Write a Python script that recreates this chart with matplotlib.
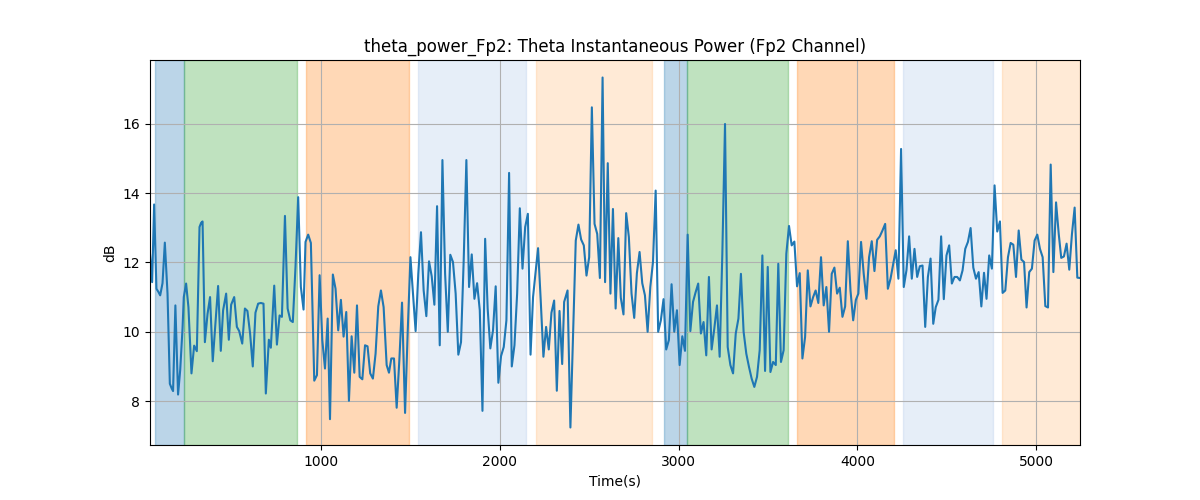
import matplotlib
matplotlib.use("Agg")
import matplotlib.pyplot as plt

times = [
    42, 54, 65, 78, 89, 99, 112, 125, 140, 153, 164, 171, 184, 199, 211, 224, 231, 244, 257, 274,
    289, 304, 319, 328, 336, 349, 364, 378, 393, 408, 423, 438, 451, 468, 483, 496, 513, 528, 541,
    558, 573, 587, 602, 617, 632, 647, 662, 677, 690,
    707, 718, 737, 752, 767, 780, 797, 812, 827, 841, 856, 871, 886, 901, 912, 927, 942, 961, 976,
    991, 1006, 1021, 1036, 1049, 1065, 1080, 1095, 1110, 1125, 1140, 1155, 1170, 1185, 1200, 1215,
    1230, 1245, 1259, 1274, 1289, 1304, 1319, 1334,
    1349, 1366, 1379, 1392, 1407, 1422, 1437, 1452, 1469, 1484, 1499, 1513, 1528, 1543, 1558, 1573,
    1588, 1603, 1618, 1633, 1648, 1663, 1678, 1693, 1708, 1722, 1737, 1752, 1767, 1782, 1797, 1812,
    1827, 1842, 1857, 1872, 1887, 1902, 1917, 1931, 1946, 1961, 1976,
    1991, 2006, 2021, 2036, 2051, 2066, 2081, 2096, 2111, 2126, 2141, 2156, 2171, 2185, 2200, 2213,
    2228, 2243, 2258, 2273, 2288, 2303, 2318, 2333, 2348, 2359, 2378, 2394, 2409, 2424, 2439, 2454,
    2469, 2484, 2499, 2514, 2529, 2544, 2559, 2574, 2588, 2603, 2618,
    2632, 2647, 2662, 2676, 2691, 2706, 2721, 2736, 2751, 2766, 2781, 2796, 2811, 2826, 2841, 2856,
    2871, 2885, 2900, 2915, 2930, 2945, 2960, 2975, 2990, 3005, 3020, 3035, 3050, 3065, 3080, 3094,
    3109, 3124, 3139, 3154, 3169, 3184, 3199, 3214, 3229, 3244, 3259,
    3274, 3289, 3304, 3319, 3334, 3348, 3363, 3378, 3393, 3408, 3423, 3438, 3453, 3468, 3483, 3498,
    3513, 3528, 3543, 3557, 3572, 3587, 3602, 3617, 3632, 3647, 3662, 3677, 3692, 3707, 3722, 3737,
    3752, 3766, 3781, 3796, 3811, 3826, 3841, 3856, 3871, 3886, 3901,
    3916, 3931, 3946, 3961, 3976, 3991, 4005, 4020, 4035, 4050, 4065, 4080, 4095, 4110, 4125, 4140,
    4155, 4170, 4185, 4200, 4214, 4229, 4244, 4259, 4274, 4289, 4304, 4319, 4334, 4349, 4364, 4379,
    4394, 4409, 4424, 4438, 4453, 4468, 4483, 4498, 4513, 4528, 4543, 4558, 4573,
    4588, 4603, 4618, 4633, 4648, 4663, 4678, 4693, 4708, 4722, 4737, 4752, 4767, 4782, 4797, 4812,
    4827, 4842, 4857, 4872, 4887, 4902, 4917, 4932, 4946, 4961, 4976, 4991, 5006, 5021, 5036, 5051,
    5066, 5081, 5096, 5111, 5126, 5140, 5155, 5170, 5185, 5200, 5215, 5230, 5245,
]

theta_power_db = [
    12.25, 11.43, 13.67, 11.24, 11.15, 11.05, 11.4, 12.57, 11.1, 8.5, 8.36, 8.29, 10.76, 8.19, 8.9,
    10.1, 11.0, 11.39, 10.71, 8.8, 9.6, 9.44, 13.02, 13.14, 13.18, 9.7, 10.52, 11.0, 9.15, 10.23,
    11.32, 9.45, 10.62, 11.1, 9.77, 10.78, 11.0, 10.14, 10.02, 9.66, 10.67, 10.6, 9.95, 9.0, 10.55,
    10.81, 10.83, 10.81, 8.22,
    9.77, 9.54, 11.33, 9.63, 10.47, 10.43, 13.34, 10.67, 10.33, 10.28, 11.87, 13.88, 11.29, 10.64,
    12.59, 12.8, 12.56, 8.59, 8.75, 11.63, 9.76, 8.94, 10.38, 7.48, 11.65, 11.24, 10.04, 10.92, 9.86,
    10.57, 8.01, 9.87, 8.82, 10.76, 8.7, 8.63, 9.61, 9.58, 8.8, 8.65, 9.37, 10.73, 11.19,
    10.71, 9.04, 8.82, 9.23, 9.23, 7.81, 9.18, 10.84, 7.66, 10.04, 12.15, 11.1, 10.02, 11.67, 12.87,
    11.19, 10.45, 12.03, 11.6, 10.78, 13.62, 9.61, 14.95, 11.67, 10.0, 12.22, 12.01, 11.1, 9.34, 9.7,
    12.06, 14.95, 11.29, 12.23, 10.95, 11.4, 10.62, 7.72, 12.68, 10.67, 9.52, 10.04, 11.31,
    8.53, 9.3, 9.56, 10.33, 14.58, 9.0, 9.61, 11.1, 13.56, 11.82, 13.02, 13.4, 9.34, 11.0, 11.77,
    12.41, 10.9, 9.28, 10.14, 9.49, 10.55, 10.9, 8.3, 10.6, 9.07, 10.86, 11.19, 7.24, 9.89, 12.63,
    13.09, 12.66, 12.49, 11.62, 12.15, 16.47, 13.11, 12.82, 11.55, 17.33, 11.43, 14.86, 11.1,
    13.54, 10.67, 12.7, 10.98, 10.5, 13.42, 12.73, 11.1, 10.4, 11.69, 12.3, 11.4, 11.05, 10.0, 11.29,
    12.01, 14.07, 10.0, 10.33, 10.94, 9.49, 9.76, 11.37, 10.0, 10.62, 9.04, 9.87, 9.45, 12.8, 10.02,
    10.86, 11.13, 11.39, 9.95, 10.28, 9.32, 11.58, 9.49, 10.09, 10.76, 9.28, 12.25, 15.99,
    9.56, 9.04, 8.8, 9.95, 10.38, 11.67, 10.0, 9.37, 8.99, 8.65, 8.41, 8.7, 9.47, 12.2, 8.87, 11.87,
    8.84, 9.13, 9.04, 11.96, 9.13, 9.47, 12.25, 13.05, 12.49, 12.6, 11.31, 11.69, 9.23, 9.85, 11.77,
    10.73, 11.0, 11.19, 10.83, 12.15, 10.76, 11.29, 10.0, 11.67, 11.85, 11.1, 11.27,
    10.43, 10.73, 12.61, 11.19, 10.33, 10.92, 11.1, 12.59, 11.67, 10.95, 12.15, 12.61, 11.75, 12.65,
    12.75, 12.92, 13.11, 11.24, 11.53, 11.96, 12.35, 11.53, 15.27, 11.29, 11.77, 12.75, 11.53, 12.39,
    11.58, 11.89, 11.91, 10.14, 11.58, 12.11, 10.23, 10.71, 10.92, 12.75, 10.94, 12.2, 12.49, 11.39,
    11.58, 11.58, 11.48,
    11.77, 12.39, 12.59, 12.99, 11.85, 11.53, 11.72, 10.73, 11.7, 10.95, 12.2, 11.82, 14.22, 12.89,
    13.18, 11.12, 11.19, 12.15, 12.56, 12.51, 11.58, 12.92, 12.08, 12.01, 10.7, 11.72, 11.82, 12.63,
    12.8, 12.39, 12.15, 10.74, 10.7, 14.82, 11.72, 13.73, 12.82, 12.13, 12.17, 12.54, 11.79, 12.82,
    13.58, 11.56, 11.55,
]

span_starts = [70, 232, 914, 1541, 2204, 2915, 3047, 3660, 4253, 4807]
span_ends = [232, 867, 1489, 2146, 2852, 3047, 3613, 4203, 4761, 5245]
span_colors = ["tab:blue", "tab:green", "tab:orange", "#aec7e8", "#ffbb78",
               "tab:blue", "tab:green", "tab:orange", "#aec7e8", "#ffbb78"]

fig, ax = plt.subplots(figsize=(12, 5), dpi=100)
for s, e, c in zip(span_starts, span_ends, span_colors):
    ax.axvspan(s, e, color=c, alpha=0.3)
ax.plot(times, theta_power_db, color="tab:blue", linewidth=1.5)
ax.set_xlim(times[0], times[-1])
ax.grid(True)
ax.set_title("theta_power_Fp2: Theta Instantaneous Power (Fp2 Channel)")
ax.set_xlabel("Time(s)")
ax.set_ylabel("dB")
fig.savefig("out.png", dpi=100)
